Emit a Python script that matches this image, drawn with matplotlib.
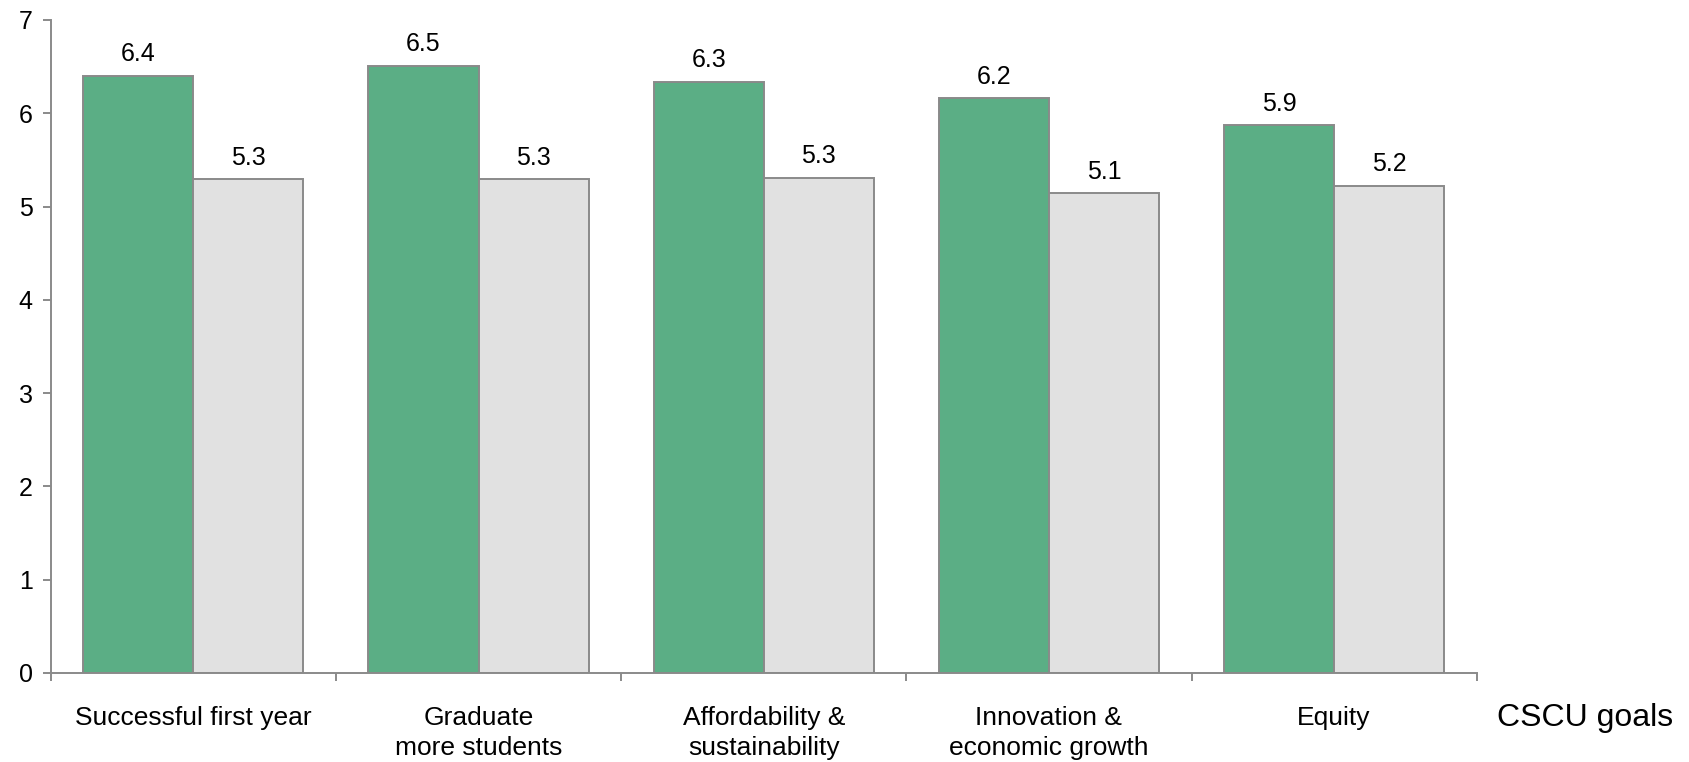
import numpy as np
import matplotlib
import matplotlib.pyplot as plt
matplotlib.use('Agg')

plt.rcParams['font.family'] = ['Liberation Sans', 'DejaVu Sans']

#%% Data
goals = ["Successful first year", "Graduate\nmore students", "Affordability &\nsustainability",
         "Innovation &\neconomic growth", "Equity"]
green_vals = [6.40, 6.51, 6.34, 6.16, 5.87]
grey_vals = [5.29, 5.29, 5.31, 5.14, 5.22]

GREEN = '#5BAE85'
GREY = '#E1E1E1'
EDGE = '#8A8A8A'
bar_w = 0.386

#%% Plot
fig = plt.figure(figsize=(16.9, 7.62), dpi=100)
ax = fig.add_axes([0.030, 0.1168, 0.8438, 0.857])

x = np.arange(len(goals))
b1 = ax.bar(x - bar_w / 2, green_vals, bar_w, color=GREEN, edgecolor=EDGE, linewidth=1.4)
b2 = ax.bar(x + bar_w / 2, grey_vals, bar_w, color=GREY, edgecolor=EDGE, linewidth=1.4)

for bars, vals in [(b1, green_vals), (b2, grey_vals)]:
    for rect, v in zip(bars, vals):
        ax.annotate(f"{v:.1f}", (rect.get_x() + rect.get_width() / 2, v),
                    xytext=(0, 7), textcoords='offset points',
                    ha='center', va='bottom', fontsize=18)

ax.set_xlim(-0.5, len(goals) - 0.5)
ax.set_ylim(0, 7)
ax.set_yticks(range(0, 8))

# category labels at centres, tick marks at the boundaries
ax.set_xticks(x)
ax.set_xticklabels(goals, fontsize=19, linespacing=1.3)
ax.tick_params(axis='x', which='major', length=0, pad=24)
ax.set_xticks(np.arange(-0.5, len(goals)), minor=True)
ax.tick_params(axis='x', which='minor', length=6, width=1.4, color=EDGE)
ax.tick_params(axis='y', length=6, width=1.4, color=EDGE, labelsize=18, pad=7)

for side in ['top', 'right']:
    ax.spines[side].set_visible(False)
for side in ['left', 'bottom']:
    ax.spines[side].set_color(EDGE)
    ax.spines[side].set_linewidth(1.4)

fig.text(0.886, 0.0577, "CSCU goals", fontsize=23, ha='left', va='center')

fig.savefig('out.png', dpi=100)
